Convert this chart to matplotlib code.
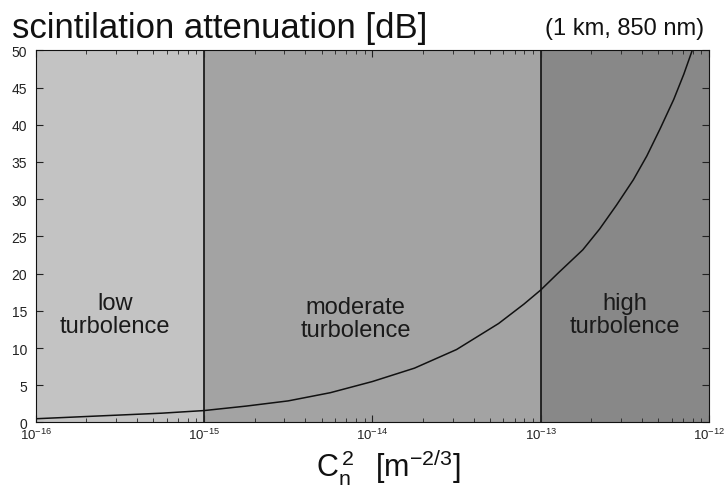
#
#   Scintillation attenuation versus refractive index structure constant.
#

import matplotlib
matplotlib.use('Agg')
import matplotlib.pyplot as plt
import numpy as np

plt.rcParams['font.family'] = ['Liberation Sans', 'DejaVu Sans']
plt.rcParams['mathtext.fontset'] = 'custom'
plt.rcParams['mathtext.rm'] = 'Liberation Sans'
plt.rcParams['mathtext.it'] = 'Liberation Sans'

# curve: log10(Cn^2) and attenuation in dB
log_cn2 = [-16.0, -15.75, -15.5, -15.25, -15.0, -14.75, -14.5, -14.25,
           -14.0, -13.75, -13.5, -13.25, -13.1, -13.0, -12.9, -12.75,
           -12.65, -12.55, -12.45, -12.37, -12.29, -12.21, -12.15, -12.1]
atten_db = [0.5, 0.75, 1.0, 1.25, 1.6, 2.2, 2.9, 4.0,
            5.5, 7.3, 9.8, 13.3, 15.9, 17.8, 20.0, 23.2,
            26.0, 29.2, 32.6, 35.8, 39.5, 43.4, 46.8, 50.0]

# turbulence regimes
region_edges = [1e-16, 1e-15, 1e-13, 1e-12]
region_colors = ['#c3c3c3', '#a3a3a3', '#888888']
region_labels = ['low\nturbolence', 'moderate\nturbolence', 'high\nturbolence']
label_x = [10**-15.53, 10**-14.1, 10**-12.5]
label_y = [14.5, 14.0, 14.5]

x_ticks = [1e-16, 1e-15, 1e-14, 1e-13, 1e-12]
x_tick_labels = [r'$10^{-16}$', r'$10^{-15}$', r'$10^{-14}$',
                 r'$10^{-13}$', r'$10^{-12}$']
y_ticks = [0, 5, 10, 15, 20, 25, 30, 35, 40, 45, 50]


def plot_scintillation(prefix):
    fig = plt.figure(figsize=(7.28, 4.89), dpi=100)
    ax = fig.add_axes([0.049, 0.134, 0.925, 0.761])

    for i in range(len(region_colors)):
        ax.axvspan(region_edges[i], region_edges[i + 1],
                   color=region_colors[i], lw=0, zorder=0)
    for edge in region_edges[1:-1]:
        ax.axvline(edge, color='#111111', lw=1.2, zorder=1)

    for i in range(len(region_labels)):
        ax.text(label_x[i], label_y[i], region_labels[i],
                ha='center', va='center', fontsize=17,
                color='#1a1a1a', linespacing=1.05)

    x = 10.0**np.array(log_cn2)
    ax.plot(x, atten_db, color='#111111', lw=1.1, zorder=2, clip_on=True)

    ax.set_xscale('log')
    ax.set_xlim(1e-16, 1e-12)
    ax.set_ylim(0, 50)
    ax.set_xticks(x_ticks)
    ax.set_xticklabels(x_tick_labels)
    ax.set_yticks(y_ticks)

    ax.tick_params(which='both', direction='in', top=True, right=True,
                   colors='#222222', labelsize=10)
    ax.tick_params(which='major', length=5)
    ax.tick_params(which='minor', length=3)
    ax.tick_params(axis='y', pad=6)
    ax.tick_params(axis='x', pad=3, labelsize=9.5)
    for spine in ax.spines.values():
        spine.set_color('#111111')

    fig.text(0.016, 0.922, 'scintilation attenuation [dB]',
             fontsize=25, color='#111111', ha='left', va='baseline')
    fig.text(0.967, 0.928, '(1 km, 850 nm)',
             fontsize=17, color='#111111', ha='right', va='baseline')
    fig.text(0.533, 0.002,
             r'$\mathrm{C_n^{\,2}}\;\;\;\mathrm{[m^{-2/3}]}$',
             fontsize=22, color='#111111', ha='center', va='bottom')

    fig.savefig('{0}.png'.format(prefix), dpi=100)
    plt.close(fig)


if __name__ == '__main__':
    plot_scintillation('out')
